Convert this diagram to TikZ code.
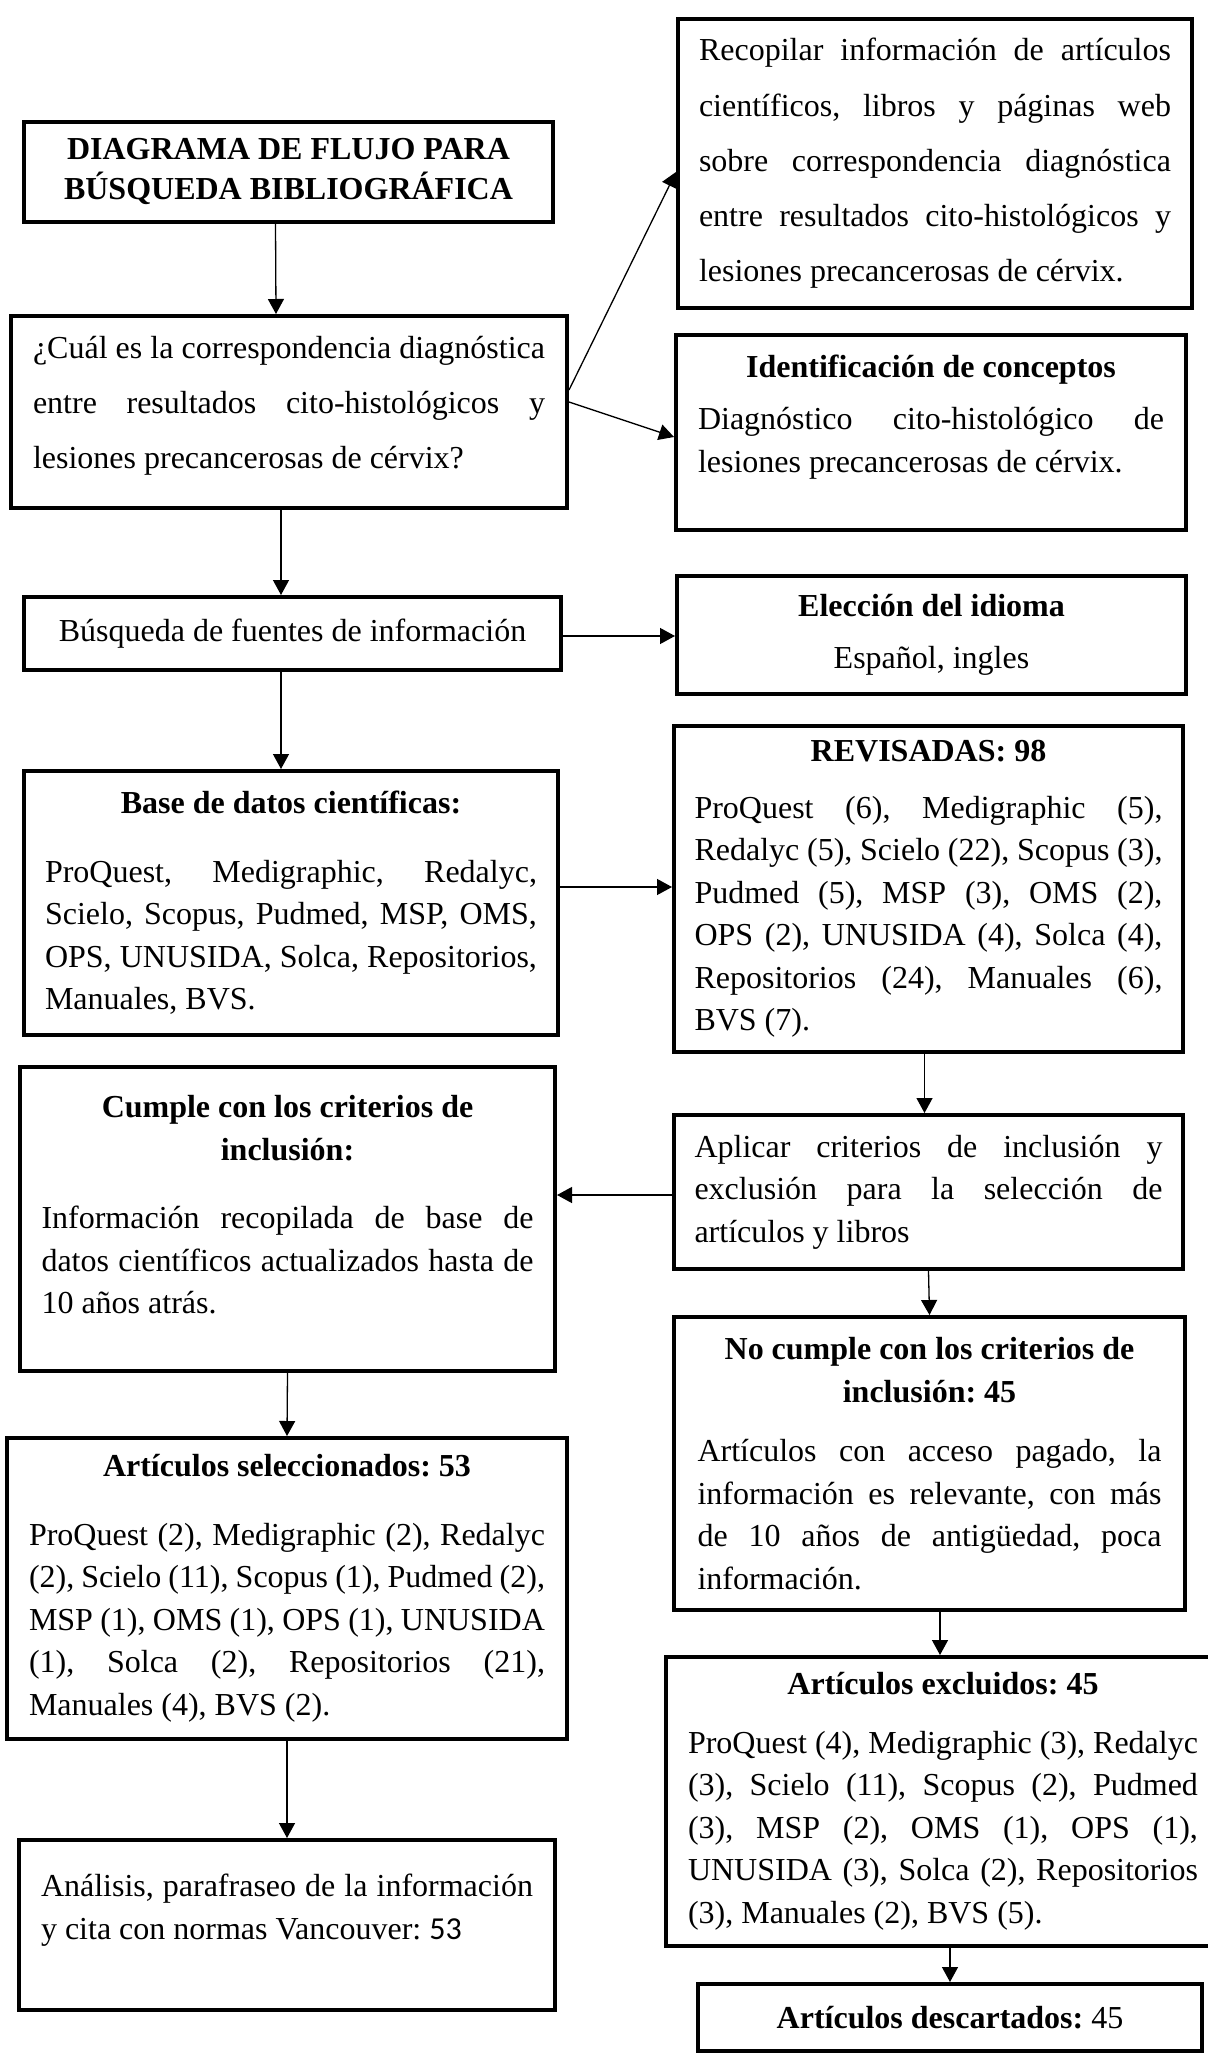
\documentclass[tikz,border=0pt]{standalone}
\usepackage{fontspec}
\setmainfont{Liberation Serif}
\newfontfamily\calibri{Carlito}
\usetikzlibrary{arrows.meta}
\setlength{\parindent}{0pt}
\frenchspacing
\hyphenpenalty=10000
\exhyphenpenalty=10000
\tolerance=9999
\begin{document}
\begin{tikzpicture}[x=0.5pt,y=-0.5pt,
        caja/.style={draw,line width=2pt,anchor=north west,inner sep=0pt,align=justify,font=\fontsize{16}{21.25}\selectfont},
        flecha/.style={line width=0.65pt,arrows={-Triangle[length=7.5pt,width=8pt]}}]
        \useasboundingbox (0,0) rectangle (1208,2054);
        \node[caja,align=center,font=\fontsize{16}{20}\selectfont\bfseries,minimum width=264.5pt,minimum height=50pt] (titulo) at (22,120) {DIAGRAMA DE FLUJO PARA\\BÚSQUEDA BIBLIOGRÁFICA};
        \node[caja,font=\fontsize{16}{27.5}\selectfont,text width=256pt,minimum width=278pt,minimum height=96pt] (pregunta) at (9,314) {¿Cuál es la correspondencia diagnóstica\linebreak entre resultados cito-histológicos y\linebreak lesiones precancerosas de cérvix?\par\vspace{6pt}\hrule height 0pt};
        \node[caja,font=\fontsize{16}{27.6}\selectfont,text width=236pt,minimum width=257pt,minimum height=144.5pt] (recopilar) at (676,17) {Recopilar información de artículos\linebreak científicos, libros y páginas web\linebreak sobre correspondencia diagnóstica\linebreak entre resultados cito-histológicos y\linebreak lesiones precancerosas de cérvix.};
        \node[caja,text width=233pt,minimum width=255pt,minimum height=97.5pt] (identificacion) at (674,333) {{\centering\bfseries Identificación de conceptos\par}\vspace{5pt}Diagnóstico cito-histológico de\linebreak lesiones precancerosas de cérvix.\par\vspace{15.5pt}\hrule height 0pt};
        \node[caja,align=center,minimum width=268.5pt,minimum height=36.5pt] (busqueda) at (22,595) {Búsqueda de fuentes de información};
        \node[caja,align=center,minimum width=254.5pt,minimum height=59pt] (eleccion) at (675,574) {\textbf{Elección del idioma}\\[5pt]Español, ingles};
        \node[caja,text width=246pt,minimum width=267pt,minimum height=132pt] (base) at (22,769) {{\centering\bfseries Base de datos científicas:\par}\vspace{13pt}ProQuest, Medigraphic, Redalyc,\linebreak Scielo, Scopus, Pudmed, MSP, OMS,\linebreak OPS, UNUSIDA, Solca, Repositorios,\linebreak Manuales, BVS.};
        \node[caja,text width=234pt,minimum width=254.5pt,minimum height=163pt] (revisadas) at (672,724) {{\centering\bfseries REVISADAS: 98\par}\vspace{7pt}ProQuest (6), Medigraphic (5),\linebreak Redalyc (5), Scielo (22), Scopus (3),\linebreak Pudmed (5), MSP (3), OMS (2),\linebreak OPS (2), UNUSIDA (4), Solca (4),\linebreak Repositorios (24), Manuales (6),\linebreak BVS (7).};
        \node[caja,text width=234pt,minimum width=254.5pt,minimum height=77pt] (aplicar) at (672,1113) {Aplicar criterios de inclusión y\linebreak exclusión para la selección de\linebreak artículos y libros};
        \node[caja,text width=246pt,minimum width=267.5pt,minimum height=152pt] (cumple) at (18,1065) {{\centering\bfseries Cumple con los criterios de\\inclusión:\par}\vspace{13pt}Información recopilada de base de\linebreak datos científicos actualizados hasta de\linebreak 10 años atrás.\par\vspace{14pt}\hrule height 0pt};
        \node[caja,text width=232pt,minimum width=255.5pt,minimum height=146.5pt] (nocumple) at (672,1315) {{\centering\bfseries No cumple con los criterios de\\inclusión: 45\par}\vspace{8.5pt}Artículos con acceso pagado, la\linebreak información es relevante, con más\linebreak de 10 años de antigüedad, poca\linebreak información.};
        \node[caja,text width=258pt,minimum width=280pt,minimum height=150.5pt] (seleccionados) at (5,1436) {{\centering\bfseries Artículos seleccionados: 53\par}\vspace{13pt}ProQuest (2), Medigraphic (2), Redalyc\linebreak (2), Scielo (11), Scopus (1), Pudmed (2),\linebreak MSP (1), OMS (1), OPS (1), UNUSIDA\linebreak (1), Solca (2), Repositorios (21),\linebreak Manuales (4), BVS (2).};
        \node[caja,text width=246pt,minimum width=268pt,minimum height=85pt] (analisis) at (17,1838) {Análisis, parafraseo de la información\linebreak y cita con normas Vancouver: {\calibri 53}\par\vspace{15pt}\hrule height 0pt};
        \node[caja,text width=255pt,minimum width=277pt,minimum height=144.5pt] (excluidos) at (664,1655) {{\centering\bfseries Artículos excluidos: 45\par}\vspace{8pt}ProQuest (4), Medigraphic (3), Redalyc\linebreak (3), Scielo (11), Scopus (2), Pudmed\linebreak (3), MSP (2), OMS (1), OPS (1),\linebreak UNUSIDA (3), Solca (2), Repositorios\linebreak (3), Manuales (2), BVS (5).};
        \node[caja,align=center,minimum width=252pt,minimum height=33.5pt] (descartados) at (696,1982) {\textbf{Artículos descartados:} 45};
        \draw[flecha] ([xshift=-6.5pt]titulo.south) -- ([xshift=-6.5pt]pregunta.north);
        \draw[flecha] ([yshift=11pt]pregunta.east) -- ([yshift=-4.25pt]recopilar.west);
        \draw[flecha] ([yshift=5pt]pregunta.east) -- ([yshift=-2.25pt]identificacion.west);
        \draw[flecha] ([xshift=-4pt]pregunta.south) -- ([xshift=-5.75pt]busqueda.north);
        \draw[flecha] ([yshift=-1.25pt]busqueda.east) -- ([yshift=-0.5pt]eleccion.west);
        \draw[flecha] ([xshift=-5.75pt]busqueda.south) -- ([xshift=-5pt]base.north);
        \draw[flecha] ([yshift=8pt]base.east) -- ([yshift=1pt]revisadas.west);
        \draw[flecha] ([xshift=-2pt]revisadas.south) -- ([xshift=-2pt]aplicar.north);
        \draw[flecha] ([yshift=-1.5pt]aplicar.west) -- ([yshift=12pt]cumple.east);
        \draw[flecha] (aplicar.south) -- (nocumple.north);
        \draw[flecha] (cumple.south) -- (seleccionados.north);
        \draw[flecha] (seleccionados.south) -- (analisis.north);
        \draw[flecha] ([xshift=5.25pt]nocumple.south) -- ([xshift=-1.5pt]excluidos.north);
        \draw[flecha] ([xshift=3.5pt]excluidos.south) -- (descartados.north);
      \end{tikzpicture}
\end{document}
